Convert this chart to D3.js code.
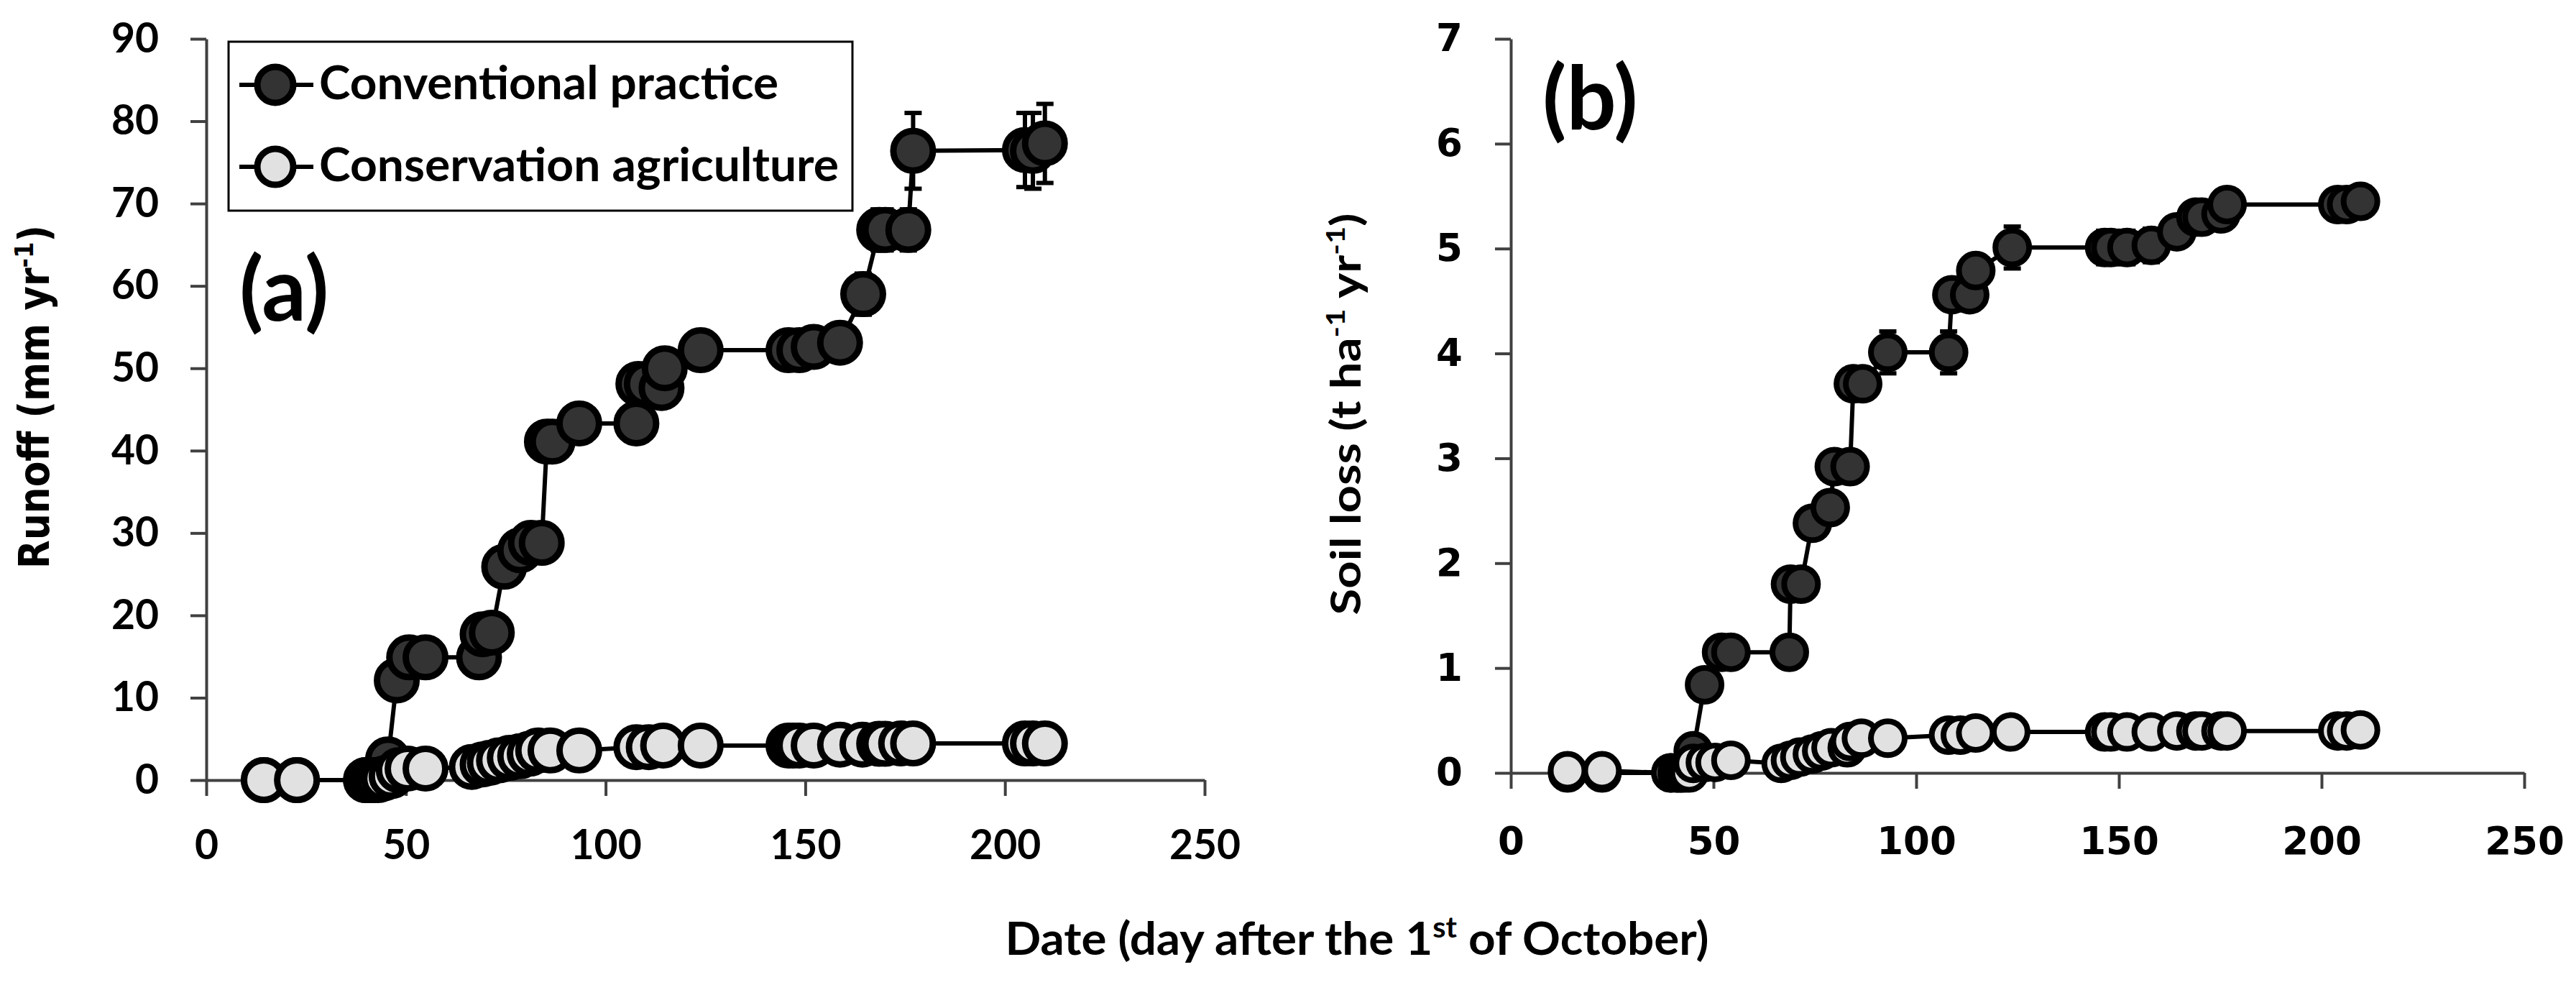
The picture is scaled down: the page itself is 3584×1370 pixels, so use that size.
<!DOCTYPE html>
<html lang="en">
<head>
<meta charset="UTF-8">
<title>Runoff and soil loss</title>
<script src="https://d3js.org/d3.v7.min.js"></script>
<style>
  body { margin: 0; background: #fff; }
  svg { display: block; }
  .domain, .tick line { stroke: #404040; stroke-width: 4px; }
</style>
</head>
<body>
<div id="chart"></div>
<script>
// ---- data ----
const xTicks = [0, 50, 100, 150, 200, 250];
const runoffTicks = [0, 10, 20, 30, 40, 50, 60, 70, 80, 90];
const soilTicks = [0, 1, 2, 3, 4, 5, 6, 7];
const seriesNames = ["Conventional practice", "Conservation agriculture"];

// (a) runoff, conventional practice
const runoffConvDay = [14.4, 22.7, 40, 41, 42, 43, 44, 45.5, 47.7, 50.8, 54.9, 68.3, 69.2, 71.5, 74.6, 78.6, 81.3, 84, 85.3, 86.7, 93.4, 107.7, 108.2, 110.3, 114, 114.8, 123.8, 145.8, 148.5, 152.1, 158.7, 164.5, 168.5, 170, 175.8, 177, 205, 207, 210];
const runoffConvVal = [0, 0, 0, 0, 0.2, 0.3, 0.5, 2.5, 12.1, 14.9, 14.9, 14.9, 17.7, 17.9, 25.9, 27.9, 28.8, 28.8, 41.1, 41.1, 43.3, 43.3, 48.1, 48.1, 47.6, 50.0, 52.2, 52.2, 52.2, 52.6, 53.1, 59.0, 66.8, 66.8, 66.8, 76.4, 76.5, 76.4, 77.3];
const runoffConvErr = [0, 0, 0, 0, 0, 0, 0, 0.5, 1, 1, 1, 1, 1, 1, 1.2, 1.2, 1.2, 1.2, 1.5, 1.5, 1.5, 1.5, 2, 2, 2, 2, 2, 2, 2, 2, 2, 2.5, 2.5, 2.5, 2.5, 4.6, 4.5, 4.6, 4.8];

// (a) runoff, conservation agriculture
const runoffConsDay = [14.4, 22.7, 40, 41, 42, 43, 44.5, 46.4, 48.2, 50.4, 54.9, 66.5, 69.2, 71, 73.3, 76, 78.6, 81, 83.1, 86.2, 93.4, 107.7, 110.8, 114.4, 123.8, 145.8, 147, 148.5, 152.1, 158.7, 164.3, 168.5, 170, 174, 177, 205, 207, 210];
const runoffConsVal = [0, 0, 0, 0, 0, 0, 0.2, 0.5, 1.2, 1.4, 1.4, 1.6, 1.9, 2.1, 2.4, 2.7, 2.9, 3.2, 3.6, 3.6, 3.6, 4.0, 4.0, 4.2, 4.2, 4.2, 4.2, 4.2, 4.2, 4.3, 4.3, 4.4, 4.4, 4.45, 4.45, 4.45, 4.45, 4.45];

// (b) soil loss, conventional practice
const soilConvDay = [14, 22.5, 39.5, 41, 42, 43, 44, 45, 47.8, 52, 54.3, 68.7, 69, 71.6, 74.4, 78.8, 79.8, 83.7, 84.5, 86.8, 93, 108, 108.8, 113.2, 114.7, 123.7, 146.5, 148, 152, 158, 164.3, 169, 170.5, 175.2, 176.7, 204, 206.2, 209.6];
const soilConvVal = [0, 0, 0, 0, 0, 0.02, 0.05, 0.21, 0.84, 1.15, 1.15, 1.15, 1.8, 1.8, 2.38, 2.53, 2.92, 2.92, 3.71, 3.71, 4.01, 4.01, 4.56, 4.56, 4.79, 5.01, 5.01, 5.01, 5.01, 5.03, 5.16, 5.3, 5.3, 5.33, 5.42, 5.42, 5.42, 5.45];
const soilConvErr = [0, 0, 0, 0, 0, 0, 0, 0.03, 0.05, 0.1, 0.1, 0.1, 0.1, 0.1, 0.1, 0.1, 0.12, 0.12, 0.12, 0.12, 0.2, 0.2, 0.15, 0.15, 0.12, 0.2, 0.16, 0.16, 0.16, 0.16, 0.12, 0.12, 0.12, 0.12, 0.15, 0.12, 0.12, 0.12];

// (b) soil loss, conservation agriculture
const soilConsDay = [14, 22.5, 39.5, 41, 42, 43, 44, 45, 48, 50.4, 54.3, 66.7, 69, 71.3, 74.4, 76.7, 79, 83, 83.7, 86.5, 93, 108, 110.9, 114.7, 123.3, 146.5, 148, 152, 158, 164.3, 169, 170.5, 175.2, 176.7, 204, 206.2, 209.6];
const soilConsVal = [0.02, 0.02, 0, 0, 0, 0, 0, 0.09, 0.1, 0.1, 0.12, 0.09, 0.12, 0.15, 0.18, 0.21, 0.24, 0.24, 0.3, 0.33, 0.33, 0.36, 0.36, 0.38, 0.39, 0.39, 0.39, 0.39, 0.39, 0.4, 0.4, 0.4, 0.4, 0.4, 0.4, 0.4, 0.41];

const convFill = "#333333";
const consFill = "#e1e1e1";
const calibri = "Lato, 'Open Sans', sans-serif";
const verdana = "'DejaVu Sans', Verdana, sans-serif";

const W = 3584, H = 1370;
const svg = d3.select("#chart").append("svg")
  .attr("width", W).attr("height", H)
  .attr("viewBox", [0, 0, W, H]);
svg.append("rect").attr("width", W).attr("height", H).attr("fill", "#fff");

function zip(days, vals, errs) {
  return days.map((d, i) => ({ x: d, y: vals[i], e: errs ? errs[i] : 0 }));
}

function drawPanel(p) {
  const x = d3.scaleLinear().domain([0, 250]).range([p.left, p.right]);
  const y = d3.scaleLinear().domain([0, p.yMax]).range([p.bottom, p.top]);
  const g = svg.append("g");

  g.append("g")
    .attr("transform", `translate(0,${p.bottom})`)
    .call(d3.axisBottom(x).tickValues(xTicks).tickFormat(d3.format("d"))
      .tickSize(22).tickSizeOuter(0).tickPadding(p.xPad))
    .call(a => a.selectAll("text").attr("font-family", p.tickFont).attr("font-weight", "bold")
      .attr("font-size", p.tickSize).attr("fill", "#000"));

  g.append("g")
    .attr("transform", `translate(${p.left},0)`)
    .call(d3.axisLeft(y).tickValues(p.yTicks).tickFormat(d3.format("d"))
      .tickSize(22).tickSizeOuter(0).tickPadding(p.yPad))
    .call(a => a.selectAll("text").attr("font-family", p.tickFont).attr("font-weight", "bold")
      .attr("font-size", p.tickSize).attr("fill", "#000"));

  const line = d3.line().x(d => x(d.x)).y(d => y(d.y));

  p.series.forEach(s => {
    const pts = zip(s.day, s.val, s.err);
    const sg = g.append("g");
    sg.append("path").datum(pts)
      .attr("d", line).attr("fill", "none").attr("stroke", "#000").attr("stroke-width", 6);
    // error bars
    const eb = sg.selectAll(".eb").data(pts.filter(d => d.e > 0)).join("g");
    eb.append("line")
      .attr("x1", d => x(d.x)).attr("x2", d => x(d.x))
      .attr("y1", d => y(d.y + d.e)).attr("y2", d => y(d.y - d.e))
      .attr("stroke", "#000").attr("stroke-width", 6);
    [1, -1].forEach(sign => {
      eb.append("line")
        .attr("x1", d => x(d.x) - 12).attr("x2", d => x(d.x) + 12)
        .attr("y1", d => y(d.y + sign * d.e)).attr("y2", d => y(d.y + sign * d.e))
        .attr("stroke", "#000").attr("stroke-width", 6);
    });
    sg.selectAll("circle").data(pts).join("circle")
      .attr("cx", d => x(d.x)).attr("cy", d => y(d.y))
      .attr("r", p.r).attr("fill", s.fill)
      .attr("stroke", "#000").attr("stroke-width", p.sw);
  });

  svg.append("text")
    .attr("x", p.tagX).attr("y", p.tagY)
    .attr("font-family", calibri).attr("font-weight", "bold").attr("font-size", 122)
    .text(p.tag);
}

drawPanel({
  left: 287, right: 1676, top: 54, bottom: 1085, yMax: 90, yTicks: runoffTicks,
  tickFont: calibri, tickSize: 57, xPad: 48, yPad: 44, r: 27.5, sw: 9,
  tag: "(a)", tagX: 333, tagY: 446,
  series: [
    { day: runoffConvDay, val: runoffConvVal, err: runoffConvErr, fill: convFill },
    { day: runoffConsDay, val: runoffConsVal, err: null, fill: consFill }
  ]
});

drawPanel({
  left: 2102, right: 3512, top: 54, bottom: 1075, yMax: 7, yTicks: soilTicks,
  tickFont: verdana, tickSize: 53, xPad: 53, yPad: 45, r: 23.5, sw: 8,
  tag: "(b)", tagX: 2146, tagY: 180,
  series: [
    { day: soilConvDay, val: soilConvVal, err: soilConvErr, fill: convFill },
    { day: soilConsDay, val: soilConsVal, err: null, fill: consFill }
  ]
});

// legend
const lg = svg.append("g");
lg.append("rect").attr("x", 318).attr("y", 58).attr("width", 868).attr("height", 235)
  .attr("fill", "#fff").attr("stroke", "#000").attr("stroke-width", 3);
const legendRows = [
  { name: seriesNames[0], fill: convFill, y: 118, len: 639 },
  { name: seriesNames[1], fill: consFill, y: 232, len: 723 }
];
legendRows.forEach(row => {
  lg.append("line").attr("x1", 333).attr("x2", 436).attr("y1", row.y).attr("y2", row.y)
    .attr("stroke", "#000").attr("stroke-width", 6);
  lg.append("circle").attr("cx", 383).attr("cy", row.y).attr("r", 25)
    .attr("fill", row.fill).attr("stroke", "#000").attr("stroke-width", 9);
  lg.append("text").attr("x", 444).attr("y", row.y + 20)
    .attr("font-family", calibri).attr("font-weight", "bold").attr("font-size", 65)
    .attr("textLength", row.len).attr("lengthAdjust", "spacingAndGlyphs")
    .text(row.name);
});

// axis titles
const yt1 = svg.append("text")
  .attr("transform", "translate(68,552) rotate(-90)")
  .attr("text-anchor", "middle")
  .attr("font-family", verdana).attr("font-weight", "bold").attr("font-size", 58)
  .attr("textLength", 478).attr("lengthAdjust", "spacingAndGlyphs");
yt1.append("tspan").text("Runoff (mm yr");
yt1.append("tspan").attr("dy", -22).attr("font-size", 36).text("-1");
yt1.append("tspan").attr("dy", 22).text(")");

const yt2 = svg.append("text")
  .attr("transform", "translate(1893,576) rotate(-90)")
  .attr("text-anchor", "middle")
  .attr("font-family", calibri).attr("font-weight", "bold").attr("font-size", 58)
  .attr("textLength", 559).attr("lengthAdjust", "spacingAndGlyphs");
yt2.append("tspan").text("Soil loss (t ha");
yt2.append("tspan").attr("dy", -22).attr("font-size", 36).text("-1");
yt2.append("tspan").attr("dy", 22).text(" yr");
yt2.append("tspan").attr("dy", -22).attr("font-size", 36).text("-1");
yt2.append("tspan").attr("dy", 22).text(")");

const xt = svg.append("text")
  .attr("x", 1888).attr("y", 1328)
  .attr("text-anchor", "middle")
  .attr("font-family", calibri).attr("font-weight", "bold").attr("font-size", 63)
  .attr("textLength", 979).attr("lengthAdjust", "spacingAndGlyphs");
xt.append("tspan").text("Date (day after the 1");
xt.append("tspan").attr("dy", -24).attr("font-size", 40).text("st");
xt.append("tspan").attr("dy", 24).text(" of October)");
</script>
</body>
</html>
